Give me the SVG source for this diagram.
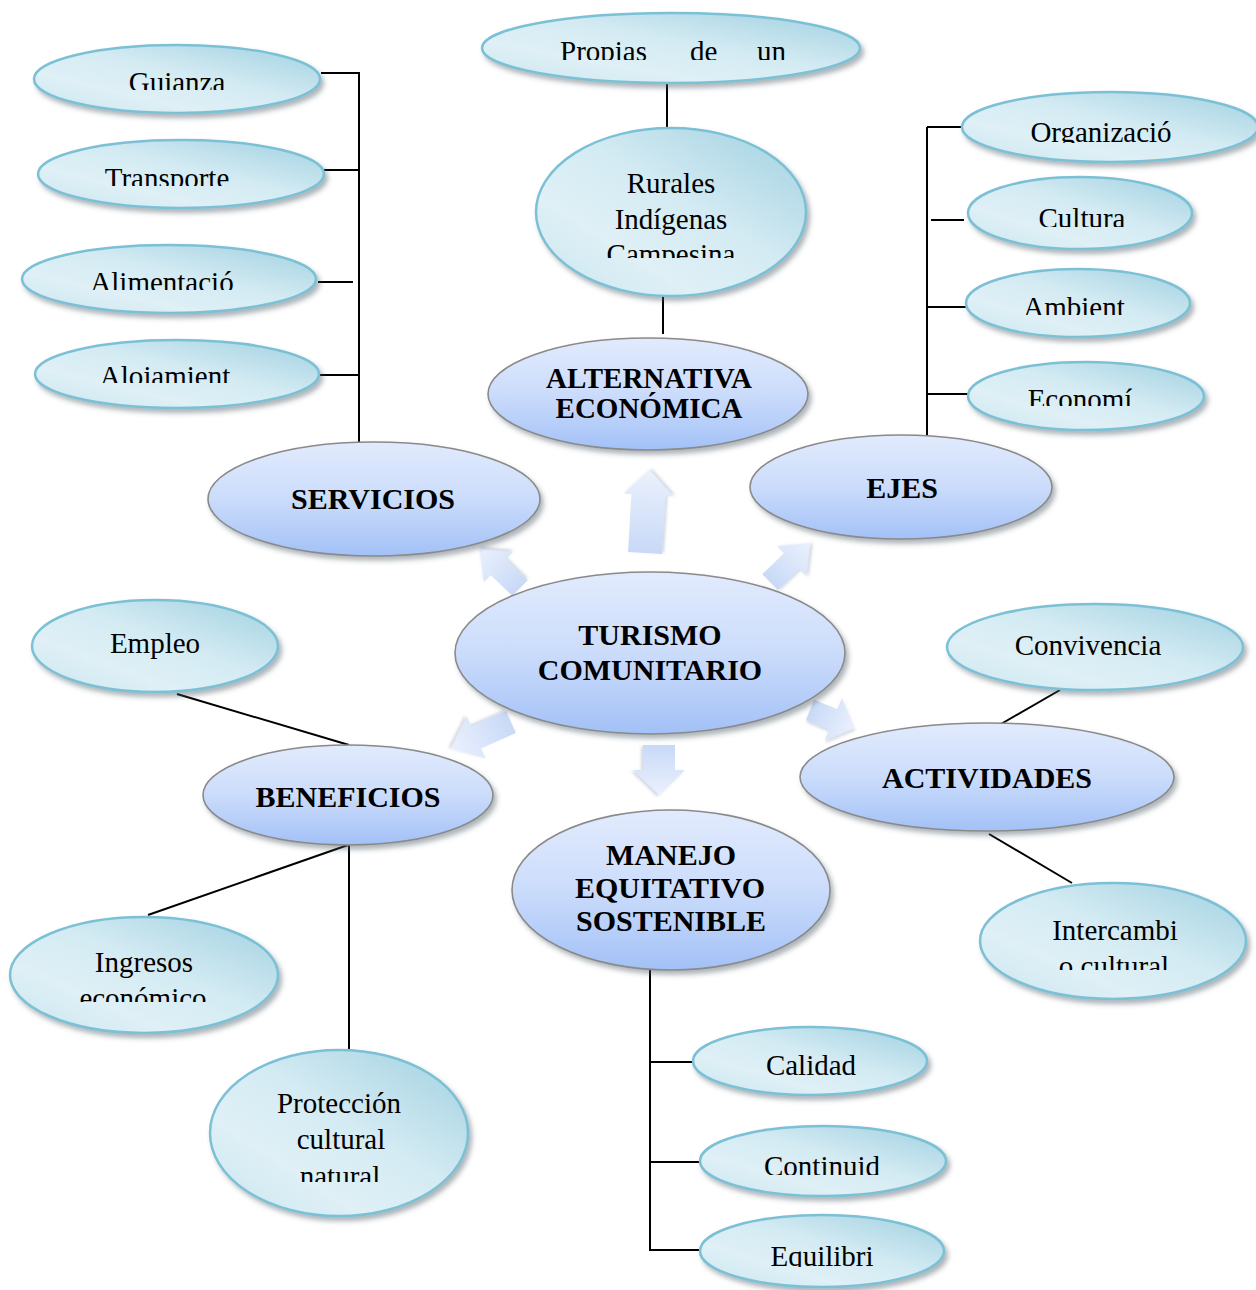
<svg xmlns="http://www.w3.org/2000/svg" width="1256" height="1290" viewBox="0 0 1256 1290">
<style>
  .main ellipse { fill: url(#gBlue); stroke: #8a8a8a; stroke-width: 1.6; filter: url(#sh); }
  .sub ellipse { fill: url(#gTeal); stroke: #7cc0d5; stroke-width: 2.5; filter: url(#sh); }
  .main text { font-family: "Liberation Serif", "Times New Roman", serif; font-weight: bold; font-size: 30px; fill: #000; text-anchor: middle; }
  .sub text { font-family: "Liberation Serif", "Times New Roman", serif; font-size: 29px; fill: #000; text-anchor: middle; }
  .conn line, .conn polyline { stroke: #000; stroke-width: 2; fill: none; }
  .arrow { fill: url(#gArrow); filter: url(#shA); }
</style>
<defs>
  <linearGradient id="gBlue" x1="0" y1="0" x2="0" y2="1">
    <stop offset="0" stop-color="#e2ebfd"/>
    <stop offset="0.5" stop-color="#cbdcfb"/>
    <stop offset="1" stop-color="#a3c1f7"/>
  </linearGradient>
  <linearGradient id="gTeal" x1="0" y1="1" x2="1" y2="0">
    <stop offset="0" stop-color="#c9e5ef"/>
    <stop offset="0.3" stop-color="#dff0f6"/>
    <stop offset="0.55" stop-color="#d4ebf3"/>
    <stop offset="1" stop-color="#9fd0e0"/>
  </linearGradient>
  <linearGradient id="gArrow" x1="0" y1="0" x2="1" y2="0">
    <stop offset="0" stop-color="#c8d9f7"/>
    <stop offset="1" stop-color="#ebf1fd"/>
  </linearGradient>
  <filter id="sh" x="-10%" y="-10%" width="125%" height="135%">
    <feDropShadow dx="3" dy="4" stdDeviation="2.5" flood-color="#4a5a66" flood-opacity="0.45"/>
  </filter>
  <filter id="shA" x="-20%" y="-20%" width="140%" height="140%">
    <feDropShadow dx="1.5" dy="2" stdDeviation="1.5" flood-color="#8090a8" flood-opacity="0.35"/>
  </filter>
  <path id="arrL" d="M0,-17 H58 V-25 L83,0 L58,25 V17 H0 Z"/>
  <path id="arrD" d="M0,-16 H25 V-26 L50,0 L25,26 V16 H0 Z"/>
  <path id="arrC" d="M0,-11 H30 V-21 L56,0 L30,21 V11 H0 Z"/>
  <path id="arrE" d="M0,-12 H38 V-23 L66,0 L38,23 V12 H0 Z"/>
  <path id="arrF" d="M0,-11 H25 V-23 L48,0 L25,23 V11 H0 Z"/>
  <clipPath id="cPropias"><rect x="0" y="0" width="1256" height="60"/></clipPath>
  <clipPath id="cRurales"><rect x="0" y="0" width="1256" height="258"/></clipPath>
  <clipPath id="cGuianza"><rect x="0" y="0" width="1256" height="90"/></clipPath>
  <clipPath id="cTransporte"><rect x="0" y="0" width="1256" height="186"/></clipPath>
  <clipPath id="cAlimentacion"><rect x="0" y="0" width="1256" height="290"/></clipPath>
  <clipPath id="cAlojamiento"><rect x="0" y="0" width="1256" height="383"/></clipPath>
  <clipPath id="cOrganizacion"><rect x="0" y="0" width="1256" height="143"/></clipPath>
  <clipPath id="cCultura"><rect x="0" y="0" width="1256" height="227"/></clipPath>
  <clipPath id="cAmbiente"><rect x="0" y="0" width="1256" height="315"/></clipPath>
  <clipPath id="cEconomia"><rect x="0" y="0" width="1256" height="406"/></clipPath>
  <clipPath id="cIngresos"><rect x="0" y="0" width="1256" height="1002"/></clipPath>
  <clipPath id="cProteccion"><rect x="0" y="0" width="1256" height="1182"/></clipPath>
  <clipPath id="cIntercambio"><rect x="0" y="0" width="1256" height="970"/></clipPath>
  <clipPath id="cContinuidad"><rect x="0" y="0" width="1256" height="1175"/></clipPath>
  <clipPath id="cEquilibrio"><rect x="0" y="0" width="1256" height="1267"/></clipPath>
</defs>
<rect x="0" y="0" width="1256" height="1290" fill="#ffffff"/>

<g id="connectors" class="conn">
  <line x1="667" y1="82" x2="667" y2="128"/>
  <line x1="663" y1="296" x2="663" y2="334"/>
  <line x1="359" y1="72" x2="359" y2="442"/>
  <line x1="321" y1="73" x2="359" y2="73"/>
  <line x1="324" y1="170" x2="359" y2="170"/>
  <line x1="318" y1="282" x2="353" y2="282"/>
  <line x1="320" y1="375" x2="359" y2="375"/>
  <line x1="927" y1="127" x2="927" y2="436"/>
  <line x1="927" y1="127" x2="963" y2="127"/>
  <line x1="931" y1="220" x2="964" y2="220"/>
  <line x1="927" y1="307" x2="967" y2="307"/>
  <line x1="927" y1="394" x2="968" y2="394"/>
  <line x1="177" y1="694" x2="349" y2="745"/>
  <line x1="348" y1="845" x2="148" y2="915"/>
  <line x1="349" y1="845" x2="349" y2="1050"/>
  <line x1="1060" y1="690" x2="1001" y2="724"/>
  <line x1="989" y1="834" x2="1072" y2="883"/>
  <polyline points="650,970 650,1250 700,1250"/>
  <line x1="650" y1="1062" x2="694" y2="1062"/>
  <line x1="650" y1="1162" x2="701" y2="1162"/>
  <use href="#arrL" class="arrow" transform="translate(645,553) rotate(-86.6)"/>
  <use href="#arrD" class="arrow" transform="translate(659,745) rotate(90)"/>
  <use href="#arrC" class="arrow" transform="translate(520,588) rotate(-136)"/>
  <use href="#arrC" class="arrow" transform="translate(770,582) rotate(-44)"/>
  <use href="#arrE" class="arrow" transform="translate(511,722) rotate(156)"/>
  <use href="#arrF" class="arrow" transform="translate(810,710) rotate(22)"/>
</g>

<g id="node-propias" class="sub">
  <ellipse cx="671" cy="48" rx="189" ry="35"/>
  <text clip-path="url(#cPropias)" y="61" style="text-anchor:start"><tspan x="560">Propias</tspan><tspan x="690">de</tspan><tspan x="757">un</tspan></text>
</g>
<g id="node-rurales" class="sub">
  <ellipse cx="671" cy="212" rx="135" ry="84"/>
  <text clip-path="url(#cRurales)" x="671" y="193">Rurales<tspan x="671" y="229">Indígenas</tspan><tspan x="671" y="264">Campesina</tspan></text>
</g>
<g id="node-alternativa" class="main">
  <ellipse cx="648" cy="394" rx="160" ry="56"/>
  <text x="649" y="388" style="font-size:29px">ALTERNATIVA<tspan x="649" y="418">ECONÓMICA</tspan></text>
</g>

<g id="node-guianza" class="sub">
  <ellipse cx="177" cy="79" rx="143" ry="34"/>
  <text clip-path="url(#cGuianza)" x="177" y="92">Guianza</text>
</g>
<g id="node-transporte" class="sub">
  <ellipse cx="181" cy="174" rx="143" ry="34"/>
  <text clip-path="url(#cTransporte)" x="167" y="188">Transporte</text>
</g>
<g id="node-alimentacion" class="sub">
  <ellipse cx="169" cy="279" rx="147" ry="34"/>
  <text clip-path="url(#cAlimentacion)" x="162" y="292">Alimentació</text>
</g>
<g id="node-alojamiento" class="sub">
  <ellipse cx="177" cy="374" rx="142" ry="34"/>
  <text clip-path="url(#cAlojamiento)" x="165" y="386">Alojamient</text>
</g>
<g id="node-servicios" class="main">
  <ellipse cx="374" cy="499" rx="166" ry="57"/>
  <text x="373" y="509">SERVICIOS</text>
</g>

<g id="node-organizacion" class="sub">
  <ellipse cx="1110" cy="127" rx="148" ry="35"/>
  <text clip-path="url(#cOrganizacion)" x="1101" y="142">Organizació</text>
</g>
<g id="node-cultura" class="sub">
  <ellipse cx="1080" cy="213" rx="112" ry="36"/>
  <text clip-path="url(#cCultura)" x="1082" y="228">Cultura</text>
</g>
<g id="node-ambiente" class="sub">
  <ellipse cx="1078" cy="303" rx="112" ry="34"/>
  <text clip-path="url(#cAmbiente)" x="1074" y="317">Ambient</text>
</g>
<g id="node-economia" class="sub">
  <ellipse cx="1086" cy="396" rx="118" ry="34"/>
  <text clip-path="url(#cEconomia)" x="1080" y="409">Economí</text>
</g>
<g id="node-ejes" class="main">
  <ellipse cx="901" cy="487" rx="151" ry="52"/>
  <text x="902" y="498">EJES</text>
</g>

<g id="node-turismo" class="main">
  <ellipse cx="650" cy="653" rx="195" ry="81"/>
  <text x="650" y="645">TURISMO<tspan x="650" y="680">COMUNITARIO</tspan></text>
</g>

<g id="node-empleo" class="sub">
  <ellipse cx="155" cy="646" rx="123" ry="46"/>
  <text x="155" y="653">Empleo</text>
</g>
<g id="node-beneficios" class="main">
  <ellipse cx="348" cy="795" rx="145" ry="50"/>
  <text x="348" y="807">BENEFICIOS</text>
</g>
<g id="node-ingresos" class="sub">
  <ellipse cx="144" cy="975" rx="134" ry="58"/>
  <text clip-path="url(#cIngresos)" x="144" y="972">Ingresos<tspan x="143" y="1008">económico</tspan></text>
</g>
<g id="node-proteccion" class="sub">
  <ellipse cx="339" cy="1133" rx="129" ry="83"/>
  <text clip-path="url(#cProteccion)" x="339" y="1113">Protección<tspan x="341" y="1149">cultural</tspan><tspan x="340" y="1186">natural</tspan></text>
</g>

<g id="node-convivencia" class="sub">
  <ellipse cx="1095" cy="647" rx="148" ry="43"/>
  <text x="1088" y="655">Convivencia</text>
</g>
<g id="node-actividades" class="main">
  <ellipse cx="987" cy="777" rx="187" ry="54"/>
  <text x="987" y="788">ACTIVIDADES</text>
</g>
<g id="node-intercambio" class="sub">
  <ellipse cx="1113" cy="941" rx="133" ry="58"/>
  <text clip-path="url(#cIntercambio)" x="1115" y="940">Intercambi<tspan x="1114" y="976">o cultural</tspan></text>
</g>

<g id="node-manejo" class="main">
  <ellipse cx="671" cy="890" rx="159" ry="80"/>
  <text x="671" y="865">MANEJO<tspan x="670" y="898">EQUITATIVO</tspan><tspan x="671" y="931">SOSTENIBLE</tspan></text>
</g>
<g id="node-calidad" class="sub">
  <ellipse cx="810" cy="1061" rx="117" ry="34"/>
  <text x="811" y="1075">Calidad</text>
</g>
<g id="node-continuidad" class="sub">
  <ellipse cx="823" cy="1161" rx="123" ry="35"/>
  <text clip-path="url(#cContinuidad)" x="822" y="1176">Continuid</text>
</g>
<g id="node-equilibrio" class="sub">
  <ellipse cx="822" cy="1251" rx="122" ry="36"/>
  <text clip-path="url(#cEquilibrio)" x="822" y="1266">Equilibri</text>
</g>
</svg>
